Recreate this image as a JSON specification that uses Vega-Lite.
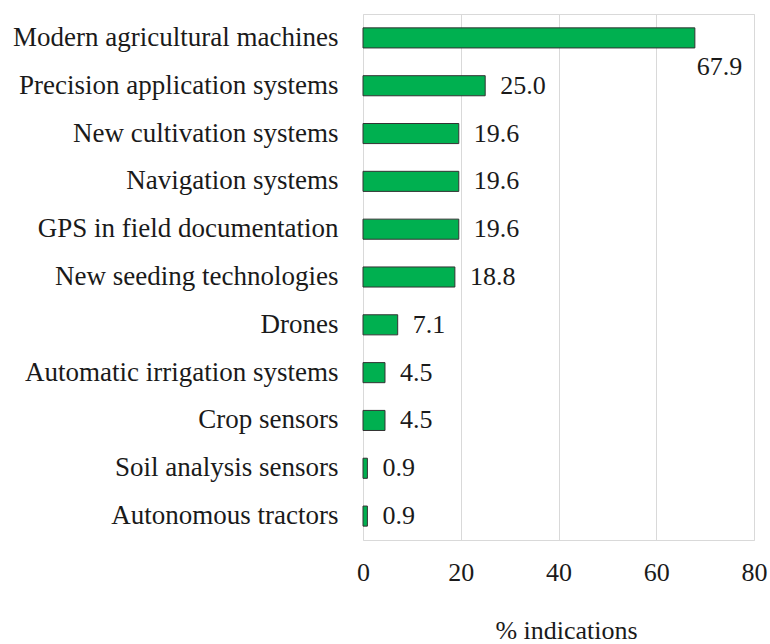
{
  "$schema": "https://vega.github.io/schema/vega-lite/v6.json",
  "width": 391,
  "height": 526,
  "autosize": {"type": "none"},
  "padding": {"left": 363, "top": 14, "right": 16, "bottom": 104},
  "background": "white",
  "config": {
    "font": "Liberation Serif",
    "view": {"stroke": "#d9d9d9", "strokeWidth": 1}
  },
  "data": {
    "values": [
      {"item": "Modern agricultural machines", "pct": 67.9},
      {"item": "Precision application systems", "pct": 25.0},
      {"item": "New cultivation systems", "pct": 19.6},
      {"item": "Navigation systems", "pct": 19.6},
      {"item": "GPS in field documentation", "pct": 19.6},
      {"item": "New seeding technologies", "pct": 18.8},
      {"item": "Drones", "pct": 7.1},
      {"item": "Automatic irrigation systems", "pct": 4.5},
      {"item": "Crop sensors", "pct": 4.5},
      {"item": "Soil analysis sensors", "pct": 0.9},
      {"item": "Autonomous tractors", "pct": 0.9}
    ]
  },
  "encoding": {
    "y": {
      "field": "item",
      "type": "nominal",
      "sort": null,
      "scale": {"paddingInner": 0.58, "paddingOuter": 0.29},
      "axis": {
        "title": null,
        "domain": false,
        "ticks": false,
        "labelFontSize": 27,
        "labelColor": "#1a1a1a",
        "labelPadding": 25,
        "labelLimit": 400,
        "labelFont": "Liberation Serif"
      }
    },
    "x": {
      "field": "pct",
      "type": "quantitative",
      "scale": {"domain": [0, 80], "nice": false},
      "axis": {
        "values": [0, 20, 40, 60, 80],
        "title": "% indications",
        "titleFontSize": 26,
        "titleFontWeight": "normal",
        "titleColor": "#1a1a1a",
        "titlePadding": 32,
        "titleX": 203,
        "domain": false,
        "ticks": false,
        "grid": true,
        "gridColor": "#d9d9d9",
        "labelFontSize": 26,
        "labelColor": "#1a1a1a",
        "labelPadding": 19,
        "labelFlush": false,
        "labelOverlap": false,
        "labelFont": "Liberation Serif",
        "titleFont": "Liberation Serif"
      }
    }
  },
  "layer": [
    {
      "mark": {"type": "bar", "color": "#00B050", "stroke": "#333333", "strokeWidth": 1}
    },
    {
      "transform": [{"filter": "datum.pct < 60"}],
      "mark": {"type": "text", "align": "left", "baseline": "middle", "dx": 15, "fontSize": 26, "color": "#1a1a1a", "font": "Liberation Serif"},
      "encoding": {"text": {"field": "pct", "type": "quantitative", "format": ".1f"}}
    },
    {
      "transform": [{"filter": "datum.pct >= 60"}],
      "mark": {"type": "text", "align": "left", "baseline": "middle", "dx": 2, "dy": 29, "fontSize": 26, "color": "#1a1a1a", "font": "Liberation Serif"},
      "encoding": {"text": {"field": "pct", "type": "quantitative", "format": ".1f"}}
    }
  ]
}
